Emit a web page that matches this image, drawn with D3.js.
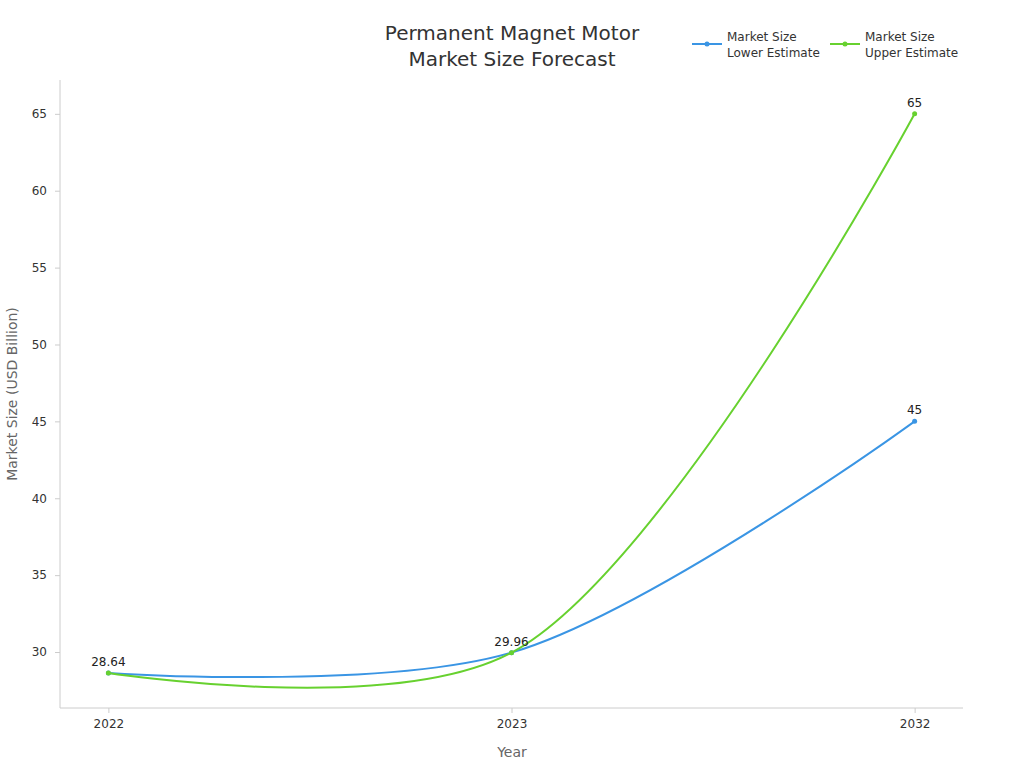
<!DOCTYPE html>
<html><head><meta charset="utf-8">
<script src="https://cdn.jsdelivr.net/npm/d3@7"></script>
<style>body{margin:0;background:#fff;font-family:"DejaVu Sans",sans-serif;}</style>
</head><body><svg id="c" width="1024" height="768"></svg>
<script>
const years = ["2022","2023","2032"];
const lowerEstimate = [28.64, 29.96, 45];
const upperEstimate = [28.64, 29.96, 65];
const yTicks = [30,35,40,45,50,55,60,65];
const seriesNames = [["Market Size","Lower Estimate"],["Market Size","Upper Estimate"]];
const colors = ["#3a95e4","#67d12f"];

const svg = d3.select("#c");
const x = d3.scalePoint().domain(years).range([60,963]).padding(0.12);
const y = d3.scaleLinear().domain([26.36,67.2]).range([708,80]);

const axisColor = "#ccc";
const gx = svg.append("g").attr("transform","translate(0,708)").call(d3.axisBottom(x).tickSize(5).tickPadding(6));
const gy = svg.append("g").attr("transform","translate(60,0)").call(d3.axisLeft(y).tickValues(yTicks).tickSize(5).tickPadding(8));
[gx,gy].forEach(g=>{g.selectAll("path,line").attr("stroke",axisColor);g.selectAll("text").attr("fill","#333").style("font-size","12px").style("font-family","DejaVu Sans");});
gx.select("path").attr("d","M60,0H963");
gy.select("path").attr("d","M0,708V80");

svg.append("text").attr("x",512).attr("y",757).attr("text-anchor","middle").attr("fill","#666").style("font-size","14px").text("Year");
svg.append("text").attr("transform","translate(17,394) rotate(-90)").attr("text-anchor","middle").attr("fill","#666").style("font-size","14px").text("Market Size (USD Billion)");

const title = svg.append("text").attr("x",512).attr("text-anchor","middle").attr("fill","#333").style("font-size","20px");
title.append("tspan").attr("x",512).attr("y",40).text("Permanent Magnet Motor");
title.append("tspan").attr("x",512).attr("y",66).text("Market Size Forecast");

const line = d3.line().x((d,i)=>x(years[i])).y(d=>y(d)).curve(d3.curveCatmullRom.alpha(0.5));
[lowerEstimate,upperEstimate].forEach((s,k)=>{
  svg.append("path").attr("d",line(s)).attr("fill","none").attr("stroke",colors[k]).attr("stroke-width",2);
  svg.selectAll(null).data(s).enter().append("circle").attr("cx",(d,i)=>x(years[i])).attr("cy",d=>y(d)).attr("r",2.5).attr("fill",colors[k]);
});
const labels = [[0,28.64,"28.64"],[1,29.96,"29.96"],[2,45,"45"],[2,65,"65"]];
labels.forEach(([i,v,t])=>svg.append("text").attr("x",x(years[i])).attr("y",y(v)-7).attr("text-anchor","middle").attr("fill","#222").style("font-size","12px").text(t));

const lx=[692,830];
seriesNames.forEach((n,k)=>{
  const g=svg.append("g").attr("transform",`translate(${lx[k]},0)`);
  g.append("line").attr("x1",0).attr("x2",30).attr("y1",44).attr("y2",44).attr("stroke",colors[k]).attr("stroke-width",2);
  g.append("circle").attr("cx",15).attr("cy",44).attr("r",2.5).attr("fill",colors[k]);
  g.append("text").attr("x",35).attr("y",41).attr("fill","#333").style("font-size","12px").text(n[0]);
  g.append("text").attr("x",35).attr("y",57).attr("fill","#333").style("font-size","12px").text(n[1]);
});
</script></body></html>
